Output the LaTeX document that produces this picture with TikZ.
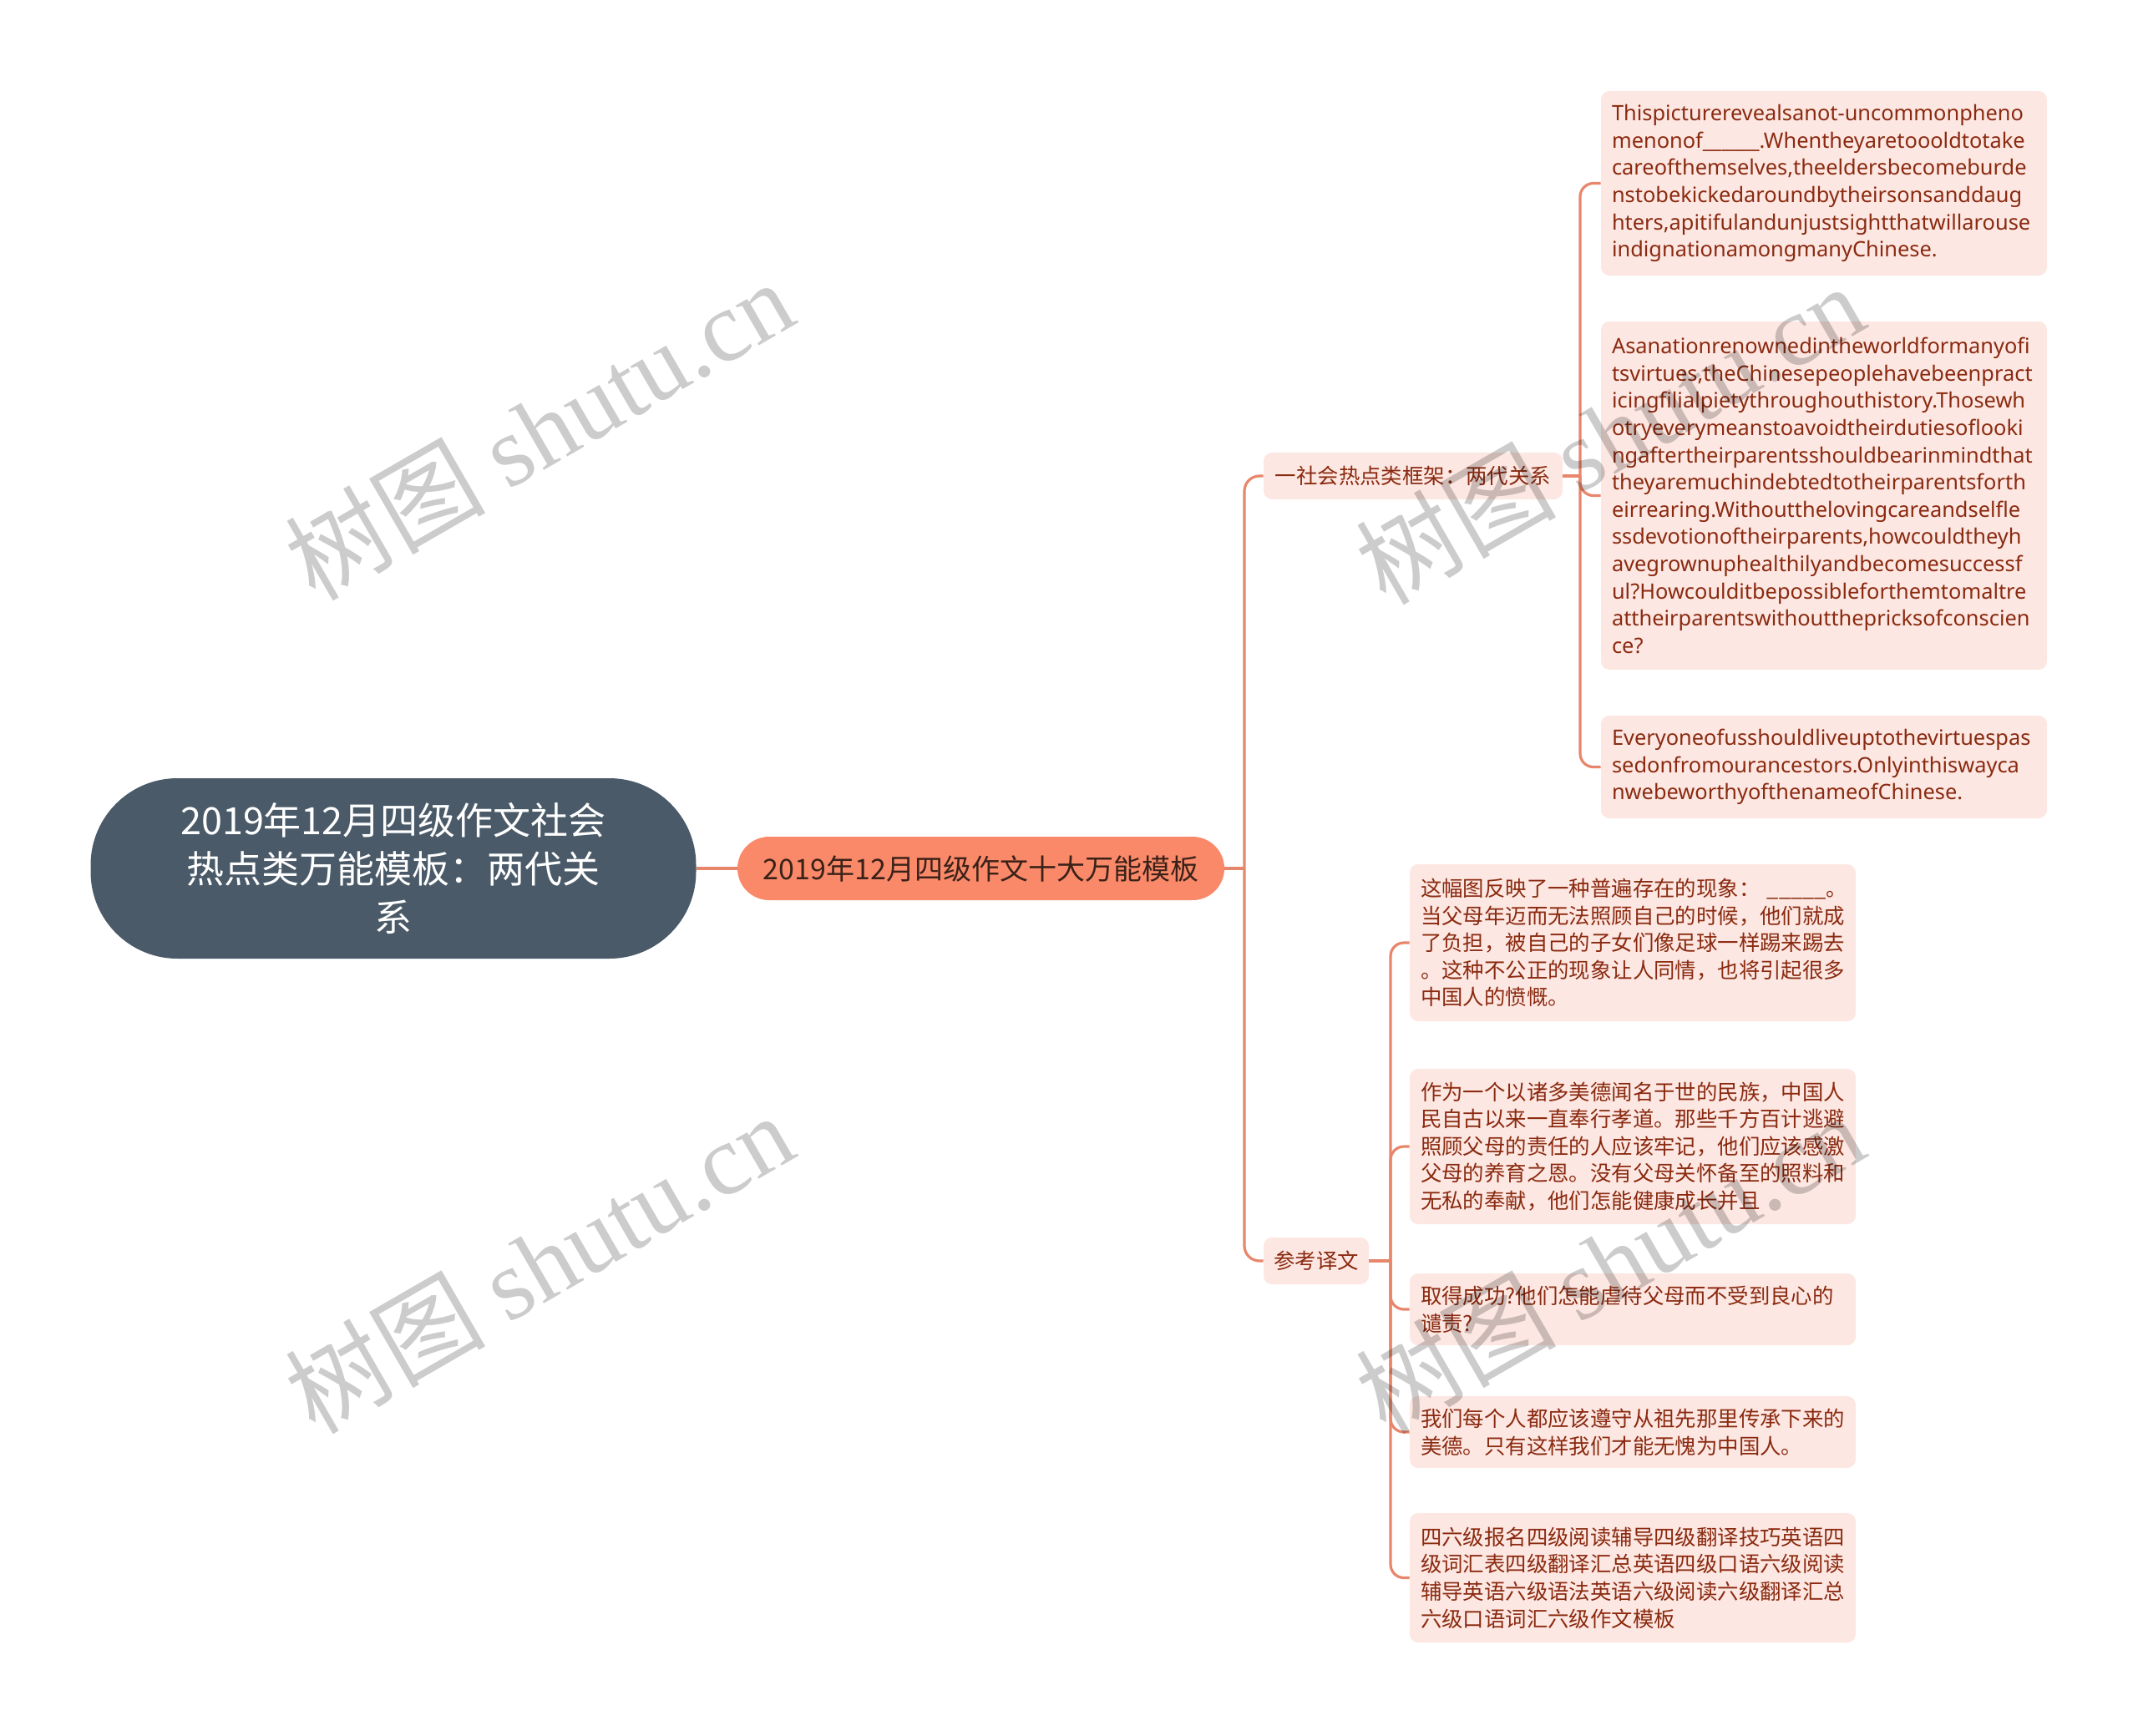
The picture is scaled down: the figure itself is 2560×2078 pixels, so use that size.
\documentclass[tikz,border=0pt]{standalone}
\usepackage{fontspec}
\setmainfont{Noto Sans CJK SC}
\newfontfamily\latinfont{Noto Sans}
\newfontfamily\wmserif{Liberation Serif}
\definecolor{rootc}{HTML}{4A5A68}
\definecolor{lonec}{HTML}{FA896A}
\definecolor{lonetext}{HTML}{3A2218}
\definecolor{leafc}{HTML}{FDE7E2}
\definecolor{leaftext}{HTML}{8A2A10}
\definecolor{connc}{HTML}{E8866C}
\hyphenpenalty=10000
\exhyphenpenalty=10000
\begin{document}
\begin{tikzpicture}[x=0.5pt,y=-0.5pt,
  rootbox/.style={fill=rootc, rounded corners=52pt, minimum width=362.5pt, minimum height=108pt,
    text=white, align=center, inner sep=0pt, font=\fontsize{22.5}{29}\selectfont},
  onebox/.style={fill=lonec, rounded corners=19pt, minimum width=291.5pt, minimum height=38pt,
    text=lonetext, inner sep=0pt, font=\fontsize{17}{20}\selectfont},
  twobox/.style={fill=leafc, rounded corners=5pt, minimum height=28pt, inner sep=0pt,
    text=leaftext, font=\fontsize{12.7}{16.3}\selectfont},
  leafbox/.style={fill=leafc, rounded corners=5pt, text=leaftext, text width=254pt,
    inner xsep=6.5pt, inner ysep=0pt, align=left,
    font=\fontsize{12.7}{16.3}\selectfont},
  enleaf/.style={leafbox, font=\latinfont\fontsize{12.7}{16.3}\selectfont},
  conn/.style={draw=connc, line width=1.6pt},
  wm/.style={text=black, text opacity=0.2, font=\fontsize{60}{60}\selectfont, inner sep=0pt}
]
\useasboundingbox (0,0) rectangle (2560,2078);

% main nodes
\node[rootbox] (root) at (471,1040) {2019年12月四级作文社会\\热点类万能模板：两代关\\系};
\node[onebox] (one) at (1174.5,1040) {2019年12月四级作文十大万能模板};
\node[twobox, minimum width=179pt] (frame) at (1692,570) {一社会热点类框架：两代关系};
\node[twobox, minimum width=63pt] (trans) at (1576,1510) {参考译文};

% English leaves
\node[enleaf, minimum height=110.5pt] (t1) at (2184,219.5) {Thispicturerevealsanot-uncommonpheno\\menonof\_\_\_\_\_\_.Whentheyaretoooldtotake\\careofthemselves,theeldersbecomeburde\\nstobekickedaroundbytheirsonsanddaug\\hters,apitifulandunjustsightthatwillarouse\\indignationamongmanyChinese.};
\node[enleaf, minimum height=208.5pt] (t2) at (2184,593.5) {Asanationrenownedintheworldformanyofi\\tsvirtues,theChinesepeoplehavebeenpract\\icingfilialpietythroughouthistory.Thosewh\\otryeverymeanstoavoidtheirdutiesoflooki\\ngaftertheirparentsshouldbearinmindthat\\theyaremuchindebtedtotheirparentsforth\\eirrearing.Withoutthelovingcareandselfle\\ssdevotionoftheirparents,howcouldtheyh\\avegrownuphealthilyandbecomesuccessf\\ul?Howcoulditbepossibleforthemtomaltre\\attheirparentswithoutthepricksofconscien\\ce?};
\node[enleaf, minimum height=61.5pt] (t3) at (2184,918.5) {Everyoneofusshouldliveuptothevirtuespas\\sedonfromourancestors.Onlyinthiswayca\\nwebeworthyofthenameofChinese.};

% Chinese leaves
\node[leafbox, minimum height=94pt] (b1) at (1955,1129) {这幅图反映了一种普遍存在的现象：~\_\_\_\_\_。\\当父母年迈而无法照顾自己的时候，他们就成\\了负担，被自己的子女们像足球一样踢来踢去\\。这种不公正的现象让人同情，也将引起很多\\中国人的愤慨。};
\node[leafbox, minimum height=93pt] (b2) at (1955,1373) {作为一个以诸多美德闻名于世的民族，中国人\\民自古以来一直奉行孝道。那些千方百计逃避\\照顾父母的责任的人应该牢记，他们应该感激\\父母的养育之恩。没有父母关怀备至的照料和\\无私的奉献，他们怎能健康成长并且};
\node[leafbox, minimum height=43pt] (b3) at (1955,1568) {取得成功?他们怎能虐待父母而不受到良心的\\谴责?};
\node[leafbox, minimum height=43pt] (b4) at (1955,1715) {我们每个人都应该遵守从祖先那里传承下来的\\美德。只有这样我们才能无愧为中国人。};
\node[leafbox, minimum height=77.5pt] (b5) at (1955,1889.5) {四六级报名四级阅读辅导四级翻译技巧英语四\\级词汇表四级翻译汇总英语四级口语六级阅读\\辅导英语六级语法英语六级阅读六级翻译汇总\\六级口语词汇六级作文模板};

% junctions
\coordinate (j1) at (1490,1040);
\coordinate (j2) at (1892,570);
\coordinate (j3) at (1665,1510);

% connectors
\draw[conn] (root.east) -- (one.west);
\draw[conn] (one.east) -- (j1);
\draw[conn, rounded corners=9pt] (j1) |- (frame.west);
\draw[conn, rounded corners=9pt] (j1) |- (trans.west);
\draw[conn] (frame.east) -- (j2);
\foreach \c in {t1,t2,t3} \draw[conn, rounded corners=8pt] (j2) |- (\c.west);
\draw[conn] (trans.east) -- (j3);
\foreach \c in {b1,b2,b3,b4,b5} \draw[conn, rounded corners=8pt] (j3) |- (\c.west);

% watermarks
\node[wm, rotate=30] (w1) at (645,514) {树图 {\wmserif shutu.cn}};
\node[wm, rotate=30] (w2) at (645,1512) {树图 {\wmserif shutu.cn}};
\node[wm, rotate=30] (w3) at (1927,519) {树图 {\wmserif shutu.cn}};
\node[wm, rotate=30] (w4) at (1927,1512) {树图 {\wmserif shutu.cn}};
\end{tikzpicture}
\end{document}
